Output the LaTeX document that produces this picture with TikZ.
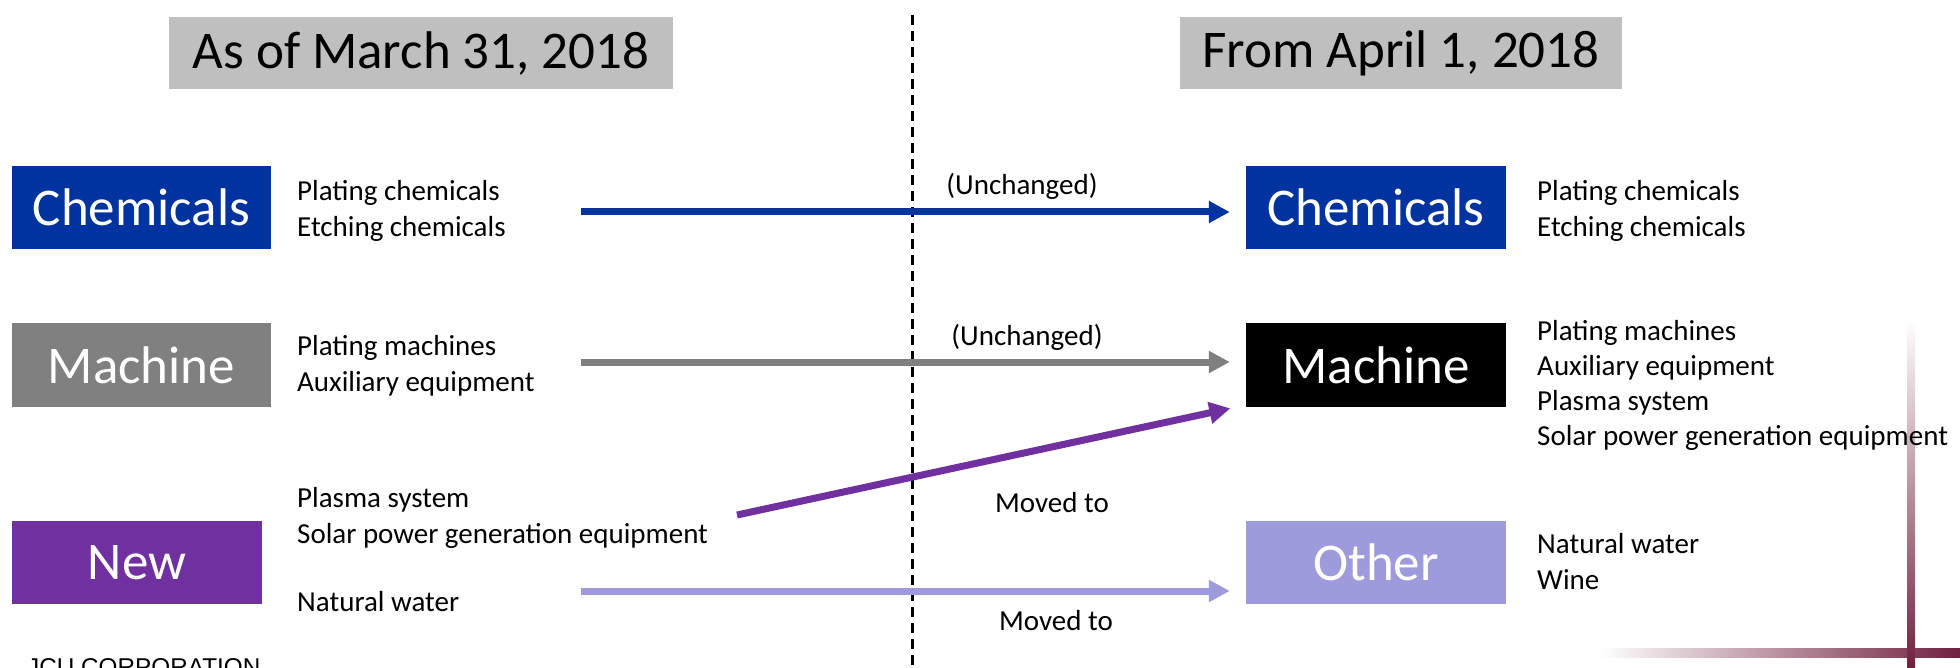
\documentclass[tikz,border=0pt]{standalone}
\usepackage{fontspec}
\setmainfont{Carlito}
\newfontfamily\jcufont{Liberation Sans}
\usetikzlibrary{arrows.meta}
\definecolor{chemblue}{RGB}{0,51,160}
\definecolor{machgray}{RGB}{128,128,128}
\definecolor{newpurple}{RGB}{112,48,160}
\definecolor{otherlav}{RGB}{158,155,220}
\definecolor{titlegray}{RGB}{191,191,191}
\definecolor{maroon}{RGB}{112,32,64}
\tikzset{
  titlebox/.style={fill=titlegray, inner sep=0, minimum height=71.5pt, font=\fontsize{53}{60}\selectfont},
  segbox/.style={inner sep=0, minimum height=83pt, text=white, font=\fontsize{53}{60}\selectfont},
  items/.style={anchor=west, align=left, inner sep=0, font=\fontsize{29}{36}\selectfont},
  lbl/.style={inner sep=0, font=\fontsize{29}{36}\selectfont},
  flow/.style={line width=7pt, -{Triangle[length=21pt,width=21pt]}, shorten >=16pt},
}
\begin{document}
\begin{tikzpicture}[x=1pt,y=-1pt]
\useasboundingbox (0,0) rectangle (1960,668);
% decorative gradient lines (behind everything)
\shade[left color=white, right color=maroon] (1600,648) rectangle (1960,657);
\shade[top color=white, bottom color=maroon] (1907,320) rectangle (1915,668);
% titles
\node[titlebox, minimum width=504pt] (tleft) at (421,53) {As of March 31, 2018};
\node[titlebox, minimum width=442pt] (tright) at (1401,53) {From April 1, 2018};
% divider
\coordinate (dtop) at (912,15);
\coordinate (dbot) at (912,668);
\draw[line width=3pt, dash pattern=on 10pt off 6pt] (dtop) -- (dbot);
% left boxes
\node[segbox, fill=chemblue, minimum width=259pt] (lchem) at (141.5,207.5) {Chemicals};
\node[segbox, fill=machgray, minimum width=259pt] (lmach) at (141.5,365) {Machine};
\node[segbox, fill=newpurple, minimum width=250pt] (lnew) at (137,562.5) {New};
% right boxes
\node[segbox, fill=chemblue, minimum width=260pt] (rchem) at (1376,207.5) {Chemicals};
\node[segbox, fill=black, minimum width=260pt] (rmach) at (1376,365) {Machine};
\node[segbox, fill=otherlav, minimum width=260pt] (rother) at (1376,562.5) {Other};
% left items
\node[items] (ichem) at (297,210.5) {Plating chemicals\\Etching chemicals};
\node[items] (imach) at (297,365.5) {Plating machines\\Auxiliary equipment};
\node[items] (iplasma) at (297,517.5) {Plasma system\\Solar power generation equipment};
\node[items] (iwater) at (297,602) {Natural water};
% right items
\node[items] (jchem) at (1537,210.5) {Plating chemicals\\Etching chemicals};
\node[items, font=\fontsize{29}{35}\selectfont] (jmach) at (1537,385) {Plating machines\\Auxiliary equipment\\Plasma system\\Solar power generation equipment};
\node[items] (jother) at (1537,562) {Natural water\\Wine};
% labels
\node[lbl] (u1) at (1022,186) {(Unchanged)};
\node[lbl] (u2) at (1027,337) {(Unchanged)};
\node[lbl] (m1) at (1052,503) {Moved to};
\node[lbl] (m2) at (1056,621) {Moved to};
% arrows
\coordinate (s1) at (581,212);
\coordinate (s2) at (581,362);
\coordinate (s3) at (737,515);
\coordinate (e3) at (1246,405);
\coordinate (s4) at (581,591);
\draw[flow, chemblue] (s1) -- (s1 -| rchem.west);
\draw[flow, machgray] (s2) -- (s2 -| rmach.west);
\draw[flow, newpurple] (s3) -- (e3);
\draw[flow, otherlav] (s4) -- (s4 -| rother.west);
% footer
\node[anchor=north west, inner sep=0, font=\jcufont\fontsize{24.3}{28}\selectfont] (jcu) at (27,658) {JCU CORPORATION};
\end{tikzpicture}
\end{document}
